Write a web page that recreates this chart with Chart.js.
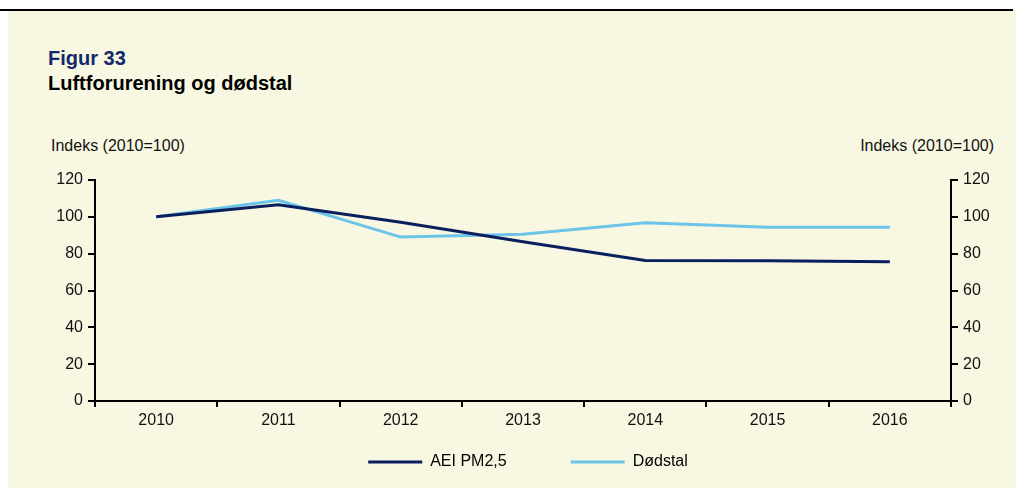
<!DOCTYPE html>
<html>
<head>
<meta charset="utf-8">
<script src="https://cdn.jsdelivr.net/npm/chart.js@4/dist/chart.umd.min.js"></script>
<style>
  html, body { margin: 0; padding: 0; background: #fff; }
  #wrap { position: relative; width: 1016px; height: 488px; overflow: hidden; font-family: "Liberation Sans", Arial, sans-serif; }
  #bg { position: absolute; left: 8px; top: 10px; width: 1008px; height: 478px; background: #f8f7e2; }
  #topline { position: absolute; left: 0; top: 9px; width: 1013px; height: 2px; background: #000; }
  .txt { position: absolute; white-space: nowrap; }
  #fig { left: 48px; top: 48px; font-size: 20px; line-height: 20px; font-weight: bold; color: #13286b; }
  #ttl { left: 48px; top: 73px; font-size: 20px; line-height: 20px; font-weight: bold; color: #000; }
  #ylab { left: 51px; top: 138px; font-size: 16px; line-height: 16px; color: #111; }
  #ylab2 { right: 22px; top: 138px; font-size: 16px; line-height: 16px; color: #111; }
  canvas { position: absolute; left: 0; top: 0; }
</style>
</head>
<body>
<div id="wrap">
  <div id="bg"></div>
  <div id="topline"></div>
  <div class="txt" id="fig">Figur 33</div>
  <div class="txt" id="ttl">Luftforurening og dødstal</div>
  <div class="txt" id="ylab">Indeks (2010=100)</div>
  <div class="txt" id="ylab2">Indeks (2010=100)</div>
  <canvas id="myChart" width="1016" height="488"></canvas>
</div>
<script>
const aar = ['2010', '2011', '2012', '2013', '2014', '2015', '2016'];
const aeiPm25 = [100, 106.5, 97, 86.5, 76.3, 76.1, 75.6];
const doedstal = [100, 109, 89, 90.5, 96.8, 94.3, 94.3];
const yMin = 0, yMax = 120, yStep = 20;

const navy = '#0a1f5e';
const lyseblaa = '#6cc5e8';

Chart.defaults.font.family = '"Liberation Sans", Arial, sans-serif';
Chart.defaults.font.size = 16;
Chart.defaults.color = '#111';

// venstre akse starter ved x=40 (layout padding), skal ende ved x=95
const akse = (pos) => ({
    position: pos,
    min: yMin,
    max: yMax,
    ticks: { stepSize: yStep, padding: 5, color: '#111' },
    grid: { drawOnChartArea: false, color: '#000', lineWidth: 2, tickLength: 7 },
    border: { color: '#000', width: 2 },
    afterFit: s => { s.width = pos === 'left' ? 55 : 65; }
});

// stor avstand mellom legendeelementene gir stor padding; flytt boksen opp igjen
const flyttLegende = {
    id: 'flyttLegende',
    afterLayout(chart) {
        const l = chart.legend;
        l.top = 454 - l.options.labels.padding;
    }
};

new Chart(document.getElementById('myChart'), {
    type: 'line',
    data: {
        labels: aar,
        datasets: [{
            label: 'AEI PM2,5',
            data: aeiPm25,
            borderColor: navy,
            backgroundColor: navy,
            borderWidth: 3,
            pointRadius: 0,
            tension: 0,
            yAxisID: 'y'
        }, {
            label: 'Dødstal',
            data: doedstal,
            borderColor: lyseblaa,
            backgroundColor: lyseblaa,
            borderWidth: 3,
            pointRadius: 0,
            tension: 0,
            yAxisID: 'y2'
        }]
    },
    plugins: [flyttLegende],
    options: {
        responsive: false,
        animation: false,
        layout: { padding: { top: 180, right: 0, left: 40, bottom: 0 } },
        plugins: {
            tooltip: { enabled: false },
            legend: {
                position: 'bottom',
                maxHeight: 57,
                labels: {
                    boxWidth: 54,
                    boxHeight: 3,
                    padding: 64,
                    color: '#111',
                    font: { size: 16 },
                    generateLabels: chart => chart.data.datasets.map((d, i) => ({
                        text: d.label,
                        fillStyle: d.borderColor,
                        strokeStyle: d.borderColor,
                        lineWidth: 0,
                        datasetIndex: i,
                        hidden: false
                    }))
                }
            }
        },
        scales: {
            x: {
                offset: true,
                ticks: { padding: 4, color: '#111' },
                grid: { offset: true, drawOnChartArea: false, color: '#000', lineWidth: 2, tickLength: 6 },
                border: { color: '#000', width: 2 },
                afterFit: s => { s.height = 30; }
            },
            y: akse('left'),
            y2: akse('right')
        }
    }
});
</script>
</body>
</html>
